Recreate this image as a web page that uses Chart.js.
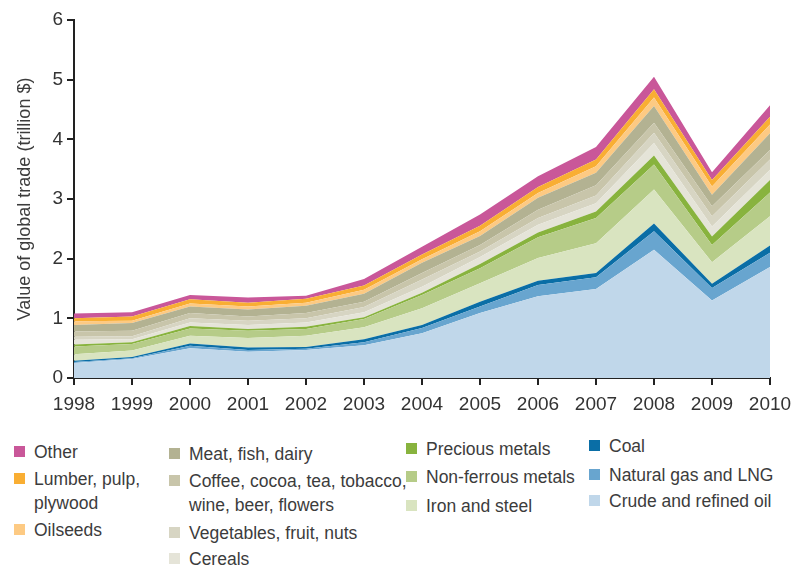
<!DOCTYPE html>
<html>
<head>
<meta charset="utf-8">
<script src="https://cdn.jsdelivr.net/npm/chart.js@4"></script>
<style>
  body { margin: 0; background: #fff; font-family: "Liberation Sans", Arial, sans-serif; }
  #wrap { position: relative; width: 801px; height: 570px; }
  #chartBox { position: absolute; left: 0; top: 0; width: 801px; height: 420px; }
  .item { position: absolute; font-size: 17.5px; line-height: 24px; color: #3c3c3c; }
  .sw { position: absolute; left: 0; top: 6px; width: 11px; height: 11px; }
  .txt { position: absolute; left: 20px; top: 0; white-space: nowrap; }
</style>
</head>
<body>
<div id="wrap">
  <div id="chartBox"><canvas id="tradeChart"></canvas></div>
  <div id="legend"></div>
</div>
<script>
// years on the x axis
const years = ["1998", "1999", "2000", "2001", "2002", "2003", "2004", "2005", "2006", "2007", "2008", "2009", "2010"];
const yTicks = [0, 1, 2, 3, 4, 5, 6];

// values in trillion $ (bottom layer first)
const crudeOil    = [0.25, 0.32, 0.50, 0.44, 0.47, 0.55, 0.75, 1.09, 1.37, 1.49, 2.15, 1.30, 1.86];
const naturalGas  = [0.02, 0.01, 0.04, 0.03, 0.02, 0.05, 0.09, 0.11, 0.19, 0.20, 0.31, 0.21, 0.24];
const coal        = [0.02, 0.02, 0.04, 0.04, 0.03, 0.05, 0.05, 0.08, 0.07, 0.07, 0.13, 0.07, 0.12];
const ironSteel   = [0.11, 0.11, 0.13, 0.16, 0.19, 0.20, 0.28, 0.31, 0.38, 0.50, 0.57, 0.36, 0.49];
const nonFerrous  = [0.13, 0.11, 0.12, 0.12, 0.11, 0.14, 0.22, 0.25, 0.35, 0.42, 0.42, 0.29, 0.40];
const precious    = [0.03, 0.03, 0.04, 0.03, 0.04, 0.03, 0.04, 0.07, 0.08, 0.11, 0.15, 0.14, 0.21];
const cereals     = [0.08, 0.05, 0.06, 0.07, 0.07, 0.08, 0.10, 0.12, 0.13, 0.14, 0.21, 0.17, 0.17];
const vegetables  = [0.05, 0.05, 0.07, 0.07, 0.07, 0.09, 0.12, 0.09, 0.11, 0.13, 0.17, 0.17, 0.17];
const coffee      = [0.09, 0.09, 0.09, 0.07, 0.09, 0.09, 0.11, 0.11, 0.14, 0.17, 0.17, 0.17, 0.16];
const meat        = [0.11, 0.13, 0.11, 0.12, 0.12, 0.13, 0.17, 0.15, 0.20, 0.21, 0.28, 0.19, 0.28];
const oilseeds    = [0.06, 0.04, 0.05, 0.05, 0.05, 0.07, 0.06, 0.08, 0.08, 0.11, 0.14, 0.14, 0.15];
const lumber      = [0.05, 0.07, 0.07, 0.06, 0.07, 0.07, 0.08, 0.09, 0.10, 0.11, 0.14, 0.11, 0.13];
const other       = [0.08, 0.07, 0.07, 0.09, 0.05, 0.11, 0.13, 0.19, 0.18, 0.21, 0.21, 0.13, 0.19];

const series = [
  { name: "Crude and refined oil", data: crudeOil, color: "#c0d7ea" },
  { name: "Natural gas and LNG", data: naturalGas, color: "#68a5cf" },
  { name: "Coal", data: coal, color: "#0a6ea6" },
  { name: "Iron and steel", data: ironSteel, color: "#d9e4c0" },
  { name: "Non-ferrous metals", data: nonFerrous, color: "#b6cc88" },
  { name: "Precious metals", data: precious, color: "#88b33e" },
  { name: "Cereals", data: cereals, color: "#e5e4d8" },
  { name: "Vegetables, fruit, nuts", data: vegetables, color: "#d7d5c3" },
  { name: "Coffee, cocoa, tea, tobacco,\nwine, beer, flowers", data: coffee, color: "#c8c5aa" },
  { name: "Meat, fish, dairy", data: meat, color: "#b3b292" },
  { name: "Oilseeds", data: oilseeds, color: "#fdca83" },
  { name: "Lumber, pulp,\nplywood", data: lumber, color: "#f9ae33" },
  { name: "Other", data: other, color: "#c95799" },
];

const ctx = document.getElementById("tradeChart").getContext("2d");
new Chart(ctx, {
  type: "line",
  data: {
    labels: years,
    datasets: series.map((s, i) => ({
      label: s.name,
      data: s.data,
      backgroundColor: s.color,
      borderColor: s.color,
      borderWidth: 0,
      pointRadius: 0,
      tension: 0,
      fill: i === 0 ? "origin" : "-1",
    })),
  },
  options: {
    responsive: true,
    maintainAspectRatio: false,
    animation: false,
    layout: { padding: { top: 20, right: 31, left: 0, bottom: 0 } },
    plugins: { legend: { display: false }, tooltip: { enabled: false } },
    scales: {
      x: {
        offset: false,
        grid: { drawOnChartArea: false, drawTicks: true, tickLength: 7, color: "#222", lineWidth: 2 },
        border: { display: true, color: "#222", width: 2 },
        ticks: { color: "#333", font: { size: 19, family: "Liberation Sans" }, padding: 8, maxRotation: 0 },
        afterFit: (s) => { s.height = 42; },
      },
      y: {
        stacked: true,
        min: yTicks[0],
        max: yTicks[yTicks.length - 1],
        grid: { drawOnChartArea: false, drawTicks: true, tickLength: 7, color: "#222", lineWidth: 2 },
        border: { display: true, color: "#222", width: 2 },
        ticks: { stepSize: 1, color: "#333", font: { size: 19, family: "Liberation Sans" }, padding: 4 },
        title: {
          display: true,
          text: "Value of global trade (trillion $)",
          color: "#3c3c3c",
          font: { size: 18, family: "Liberation Sans" },
          padding: { top: 14, bottom: 0 },
        },
        afterFit: (s) => { s.width = 74; },
      },
    },
  },
});

// legend laid out in four columns like the original
const legendSlots = [
  ["Other", 14, 440], ["Lumber, pulp,\nplywood", 14, 467], ["Oilseeds", 14, 518],
  ["Meat, fish, dairy", 169, 442], ["Coffee, cocoa, tea, tobacco,\nwine, beer, flowers", 169, 469],
  ["Vegetables, fruit, nuts", 169, 521], ["Cereals", 169, 547],
  ["Precious metals", 406, 437], ["Non-ferrous metals", 406, 465], ["Iron and steel", 406, 494],
  ["Coal", 589, 434], ["Natural gas and LNG", 589, 463], ["Crude and refined oil", 589, 489],
];
const legend = document.getElementById("legend");
legendSlots.forEach(([name, x, y]) => {
  const s = series.find((d) => d.name === name);
  const div = document.createElement("div");
  div.className = "item";
  div.style.left = x + "px";
  div.style.top = y + "px";
  div.innerHTML = `<span class="sw" style="background:${s.color}"></span><span class="txt">${name.replace("\n", "<br>")}</span>`;
  legend.appendChild(div);
});
</script>
</body>
</html>
